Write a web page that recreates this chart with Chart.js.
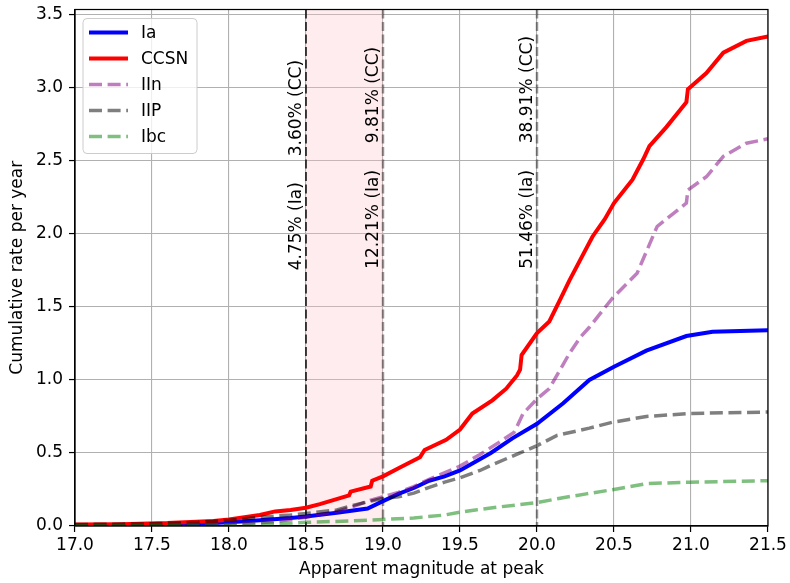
<!DOCTYPE html>
<html>
<head>
<meta charset="utf-8">
<script src="https://cdn.jsdelivr.net/npm/chart.js@4/dist/chart.umd.min.js"></script>
<style>
    html, body { margin: 0; padding: 0; background: #fff; }
    #wrap { width: 790px; height: 583px; }
</style>
</head>
<body>
<div id="wrap"><canvas id="rate-chart" width="790" height="583"></canvas></div>
<script>
// Cumulative rate per year vs apparent peak magnitude

const xTicks = [17.0, 17.5, 18.0, 18.5, 19.0, 19.5, 20.0, 20.5, 21.0, 21.5];
const yTicks = [0.0, 0.5, 1.0, 1.5, 2.0, 2.5, 3.0, 3.5];

const iaMag  = [17.0, 17.5, 17.8, 18.0, 18.2, 18.4, 18.5, 18.7, 18.9, 19.0, 19.1, 19.2, 19.3, 19.4, 19.5, 19.6, 19.7, 19.84, 20.0, 20.17, 20.34, 20.5, 20.71, 20.97, 21.14, 21.5];
const iaRate = [0.005, 0.008, 0.015, 0.025, 0.04, 0.055, 0.065, 0.09, 0.12, 0.17, 0.22, 0.26, 0.31, 0.34, 0.38, 0.44, 0.50, 0.60, 0.70, 0.84, 1.00, 1.09, 1.20, 1.30, 1.33, 1.34];

const ccMag  = [17.0, 17.3, 17.6, 17.9, 18.0, 18.1, 18.2, 18.3, 18.4, 18.5, 18.59, 18.78, 18.79, 18.92, 18.93, 19.0, 19.11, 19.24, 19.27, 19.41, 19.5, 19.58, 19.71, 19.8, 19.87, 19.89, 19.9, 20.0, 20.08, 20.15, 20.21, 20.28, 20.36, 20.44, 20.5, 20.62, 20.69, 20.73, 20.84, 20.97, 20.98, 21.1, 21.21, 21.36, 21.5];
const ccRate = [0.01, 0.012, 0.02, 0.035, 0.045, 0.06, 0.075, 0.10, 0.11, 0.125, 0.15, 0.21, 0.235, 0.27, 0.31, 0.34, 0.40, 0.47, 0.52, 0.59, 0.66, 0.77, 0.86, 0.94, 1.03, 1.07, 1.17, 1.32, 1.40, 1.55, 1.68, 1.82, 1.98, 2.10, 2.21, 2.37, 2.51, 2.60, 2.73, 2.90, 2.99, 3.10, 3.24, 3.32, 3.35];

const iinMag  = [17.0, 17.8, 18.0, 18.3, 18.5, 18.7, 18.8, 18.9, 19.0, 19.1, 19.2, 19.3, 19.5, 19.63, 19.75, 19.85, 19.87, 19.91, 20.0, 20.08, 20.21, 20.28, 20.34, 20.49, 20.65, 20.78, 20.97, 20.98, 21.1, 21.21, 21.36, 21.5];
const iinRate = [0.002, 0.005, 0.01, 0.03, 0.06, 0.10, 0.13, 0.17, 0.20, 0.23, 0.27, 0.32, 0.41, 0.49, 0.57, 0.64, 0.68, 0.77, 0.87, 0.94, 1.18, 1.29, 1.36, 1.56, 1.73, 2.05, 2.21, 2.30, 2.39, 2.53, 2.62, 2.65];

const iipMag  = [17.0, 17.5, 17.8, 18.0, 18.2, 18.4, 18.5, 18.7, 18.8, 18.9, 19.0, 19.1, 19.2, 19.3, 19.4, 19.5, 19.63, 19.71, 19.89, 20.0, 20.13, 20.34, 20.49, 20.71, 20.99, 21.5];
const iipRate = [0.01, 0.015, 0.025, 0.04, 0.06, 0.075, 0.085, 0.11, 0.14, 0.165, 0.19, 0.20, 0.225, 0.265, 0.30, 0.33, 0.38, 0.42, 0.50, 0.55, 0.62, 0.67, 0.71, 0.75, 0.77, 0.78];

const ibcMag  = [17.0, 17.5, 18.0, 18.3, 18.5, 18.8, 19.0, 19.2, 19.4, 19.5, 19.6, 19.75, 20.0, 20.15, 20.32, 20.5, 20.71, 20.99, 21.5];
const ibcRate = [0.003, 0.005, 0.008, 0.015, 0.025, 0.035, 0.045, 0.055, 0.075, 0.095, 0.11, 0.13, 0.16, 0.19, 0.22, 0.25, 0.29, 0.30, 0.31];

// magnitude cuts and the fractions quoted beside them
const cutMags = [18.5, 19.0, 20.0];
const ccLabels = ['3.60% (CC)', '9.81% (CC)', '38.91% (CC)'];
const iaLabels = ['4.75% (Ia)', '12.21% (Ia)', '51.46% (Ia)'];
const bandMags = [18.5, 19.0];

const FONT = 'DejaVu Sans';
const DASH = [13, 5.6];

const pts = (xs, ys) => xs.map((m, i) => ({ x: m, y: ys[i] }));

const series = [
    { label: 'Ia',   data: pts(iaMag, iaRate),   color: '#0000ff',             width: 4,   dash: [] },
    { label: 'CCSN', data: pts(ccMag, ccRate),   color: '#ff0000',             width: 4,   dash: [] },
    { label: 'IIn',  data: pts(iinMag, iinRate), color: 'rgba(128,0,128,0.5)', width: 3.5, dash: DASH },
    { label: 'IIP',  data: pts(iipMag, iipRate), color: 'rgba(0,0,0,0.5)',     width: 3.5, dash: DASH },
    { label: 'Ibc',  data: pts(ibcMag, ibcRate), color: 'rgba(0,128,0,0.5)',   width: 3.5, dash: DASH }
];

const overlay = {
    id: 'overlay',
    beforeDatasetsDraw(chart) {
        const { ctx, chartArea: a, scales: { x } } = chart;
        ctx.save();
        const b0 = x.getPixelForValue(bandMags[0]);
        const b1 = x.getPixelForValue(bandMags[1]);
        ctx.fillStyle = 'rgba(255,192,203,0.3)';
        ctx.fillRect(b0, a.top, b1 - b0, a.bottom - a.top);

        ctx.setLineDash([9, 3.5]);
        cutMags.forEach((m, i) => {
            const px = x.getPixelForValue(m);
            ctx.strokeStyle = i === 0 ? 'rgba(0,0,0,0.72)' : 'rgba(0,0,0,0.4)';
            ctx.lineWidth = i === 0 ? 2 : 2.5;
            ctx.beginPath();
            ctx.moveTo(px, a.top);
            ctx.lineTo(px, a.bottom);
            ctx.stroke();
        });
        ctx.restore();
    },
    afterDatasetsDraw(chart) {
        const { ctx, scales: { x, y } } = chart;
        ctx.save();
        ctx.font = '17px "' + FONT + '"';
        ctx.fillStyle = '#000';
        ctx.textAlign = 'left';
        ctx.textBaseline = 'bottom';
        const ccY = [2.53, 2.62, 2.62];
        const iaY = [1.75, 1.76, 1.76];
        cutMags.forEach((m, i) => {
            const px = x.getPixelForValue(m) - 1;
            [[ccLabels[i], ccY[i]], [iaLabels[i], iaY[i]]].forEach(([txt, v]) => {
                ctx.save();
                ctx.translate(px, y.getPixelForValue(v));
                ctx.rotate(-Math.PI / 2);
                ctx.fillText(txt, 0, 0);
                ctx.restore();
            });
        });
        ctx.restore();
    },
    afterDraw(chart) {
        const { ctx, chartArea: a } = chart;
        ctx.save();
        // full frame like matplotlib spines
        ctx.strokeStyle = '#000';
        ctx.lineWidth = 1.2;
        ctx.strokeRect(a.left, a.top, a.right - a.left, a.bottom - a.top);

        // legend box
        const lx = a.left + 8, ly = a.top + 9, lw = 114, lh = 135;
        ctx.beginPath();
        ctx.roundRect(lx, ly, lw, lh, 4);
        ctx.fillStyle = 'rgba(255,255,255,0.8)';
        ctx.fill();
        ctx.strokeStyle = '#cccccc';
        ctx.lineWidth = 1;
        ctx.stroke();

        ctx.font = '17px "' + FONT + '"';
        ctx.textBaseline = 'middle';
        ctx.textAlign = 'left';
        series.forEach((s, i) => {
            const ry = ly + 14 + i * 26;
            ctx.strokeStyle = s.color;
            ctx.lineWidth = s.width;
            ctx.setLineDash(s.dash);
            ctx.beginPath();
            ctx.moveTo(lx + 6, ry);
            ctx.lineTo(lx + 45, ry);
            ctx.stroke();
            ctx.setLineDash([]);
            ctx.fillStyle = '#000';
            ctx.fillText(s.label, lx + 58, ry + 1);
        });
        ctx.restore();
    }
};

new Chart(document.getElementById('rate-chart'), {
    type: 'line',
    data: {
        datasets: series.map((s, i) => ({
            label: s.label,
            data: s.data,
            borderColor: s.color,
            borderWidth: s.width,
            borderDash: s.dash,
            borderCapStyle: 'butt',
            pointRadius: 0,
            tension: 0,
            fill: false,
            order: series.length - i
        }))
    },
    options: {
        responsive: false,
        animation: false,
        devicePixelRatio: 1,
        layout: { padding: { left: 0, right: 22, top: 9.5, bottom: 0 } },
        plugins: { legend: { display: false }, tooltip: { enabled: false } },
        scales: {
            x: {
                type: 'linear',
                min: 17,
                max: 21.5,
                afterBuildTicks: s => { s.ticks = xTicks.map(v => ({ value: v })); },
                afterFit: s => { s.height = 57; s.paddingLeft = 0; s.paddingRight = 0; },
                grid: { color: '#b0b0b0', lineWidth: 1.1, tickColor: '#000', tickLength: 6, tickWidth: 1.2 },
                border: { color: '#000', width: 1.2 },
                ticks: {
                    color: '#000',
                    padding: 3,
                    maxRotation: 0,
                    font: { family: FONT, size: 17 },
                    callback: v => Number(v).toFixed(1)
                },
                title: {
                    display: true,
                    text: 'Apparent magnitude at peak',
                    color: '#000',
                    font: { family: FONT, size: 17 },
                    padding: { top: 0, bottom: 3 }
                }
            },
            y: {
                type: 'linear',
                min: 0,
                max: 3.535,
                afterBuildTicks: s => { s.ticks = yTicks.map(v => ({ value: v })); },
                afterFit: s => { s.width = 75; s.paddingTop = 0; s.paddingBottom = 0; },
                grid: { color: '#b0b0b0', lineWidth: 1.1, tickColor: '#000', tickLength: 6, tickWidth: 1.2 },
                border: { color: '#000', width: 1.2 },
                ticks: {
                    color: '#000',
                    padding: 6,
                    font: { family: FONT, size: 17 },
                    callback: v => Number(v).toFixed(1)
                },
                title: {
                    display: true,
                    text: 'Cumulative rate per year',
                    color: '#000',
                    font: { family: FONT, size: 17 },
                    padding: { top: 7, bottom: 0 }
                }
            }
        }
    },
    plugins: [overlay]
});
</script>
</body>
</html>
